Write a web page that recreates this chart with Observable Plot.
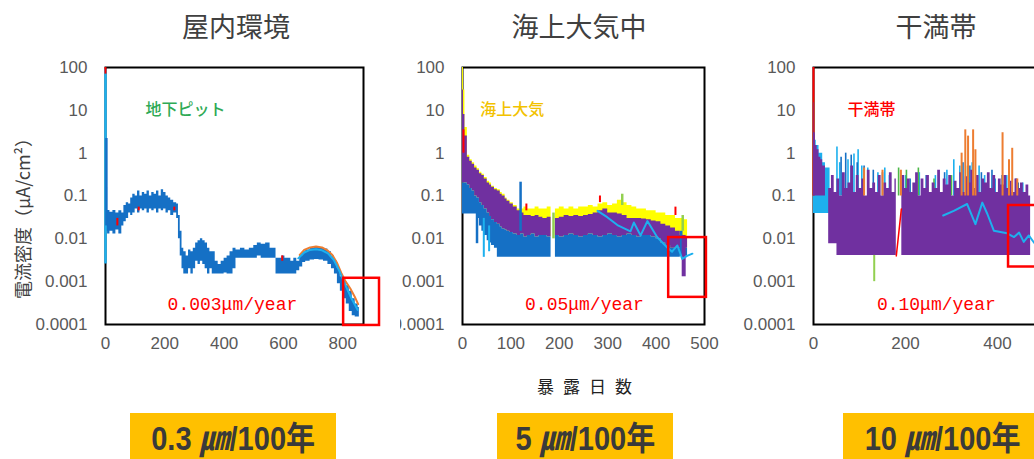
<!DOCTYPE html>
<html><head><meta charset="utf-8">
<script src="https://cdn.jsdelivr.net/npm/d3@7"></script>
<script src="https://cdn.jsdelivr.net/npm/@observablehq/plot@0.6"></script>
<style>
html,body{margin:0;padding:0;background:#fff;overflow:hidden;}
#root{position:relative;width:1034px;height:459px;overflow:hidden;background:#fff;}
.abs{position:absolute;white-space:nowrap;}
.title{font-family:"Noto Sans CJK JP";font-size:27px;color:#404040;line-height:1;transform:translateX(-50%);top:12px;}
.ylab{font-family:"Noto Sans CJK JP";font-size:18px;color:#404040;line-height:1;transform:translate(-50%,-50%) rotate(-90deg);}
.xlab{font-family:"Noto Sans CJK JP";font-size:17px;color:#222;line-height:1;transform:translate(-50%,-50%);letter-spacing:9px;}
.gold{top:413px;height:50px;background:#FFC000;font-family:"Liberation Sans","Noto Sans CJK JP";font-weight:bold;font-size:33px;color:#3a3a3a;text-align:center;line-height:46px;}
.gold .in{display:inline-block;transform:scaleX(0.88);}
.mu{font-style:italic;font-family:"Noto Sans CJK JP";font-weight:bold;margin-right:1px;}
</style></head><body><div id="root"></div><script>
// ---------- shared ----------
const titles = ["屋内環境", "海上大気中", "干満帯"];
const yTicks = [0.0001, 0.001, 0.01, 0.1, 1, 10, 100];
const yTickLabels = ["0.0001", "0.001", "0.01", "0.1", "1", "10", "100"];
const yLabel = "電流密度（μA/cm²）";
const xLabel = "暴露日数";
const rateLabels = ["0.003μm/year", "0.05μm/year", "0.10μm/year"];
const envLabels = ["地下ピット", "海上大気", "干満帯"];
const boxRates = ["0.3", "5", "10"];
const boxUnit = "㎛";
const boxTail = "/100年";

// ---------- panel 1 : indoor (地下ピット) ----------
const p1Day = [0,2,4,7,15,25,35,45,55,62, 70,78,85,92,100,108,116,124,132,140, 148,156,164,172,180,188,196,204,212,220, 230,240,246,252,258,264,272,280,288,296, 304,312,320,328,336,344,352,360,370,380, 390,400,410,420,430,440,455,470,485,500, 512,525,540,555,565,575,585,595,605,615, 625,635,645,655,665,675,690,705,720,735, 750,762,772,782,792,802,812,822,832,842, 852,856];
const p1Lo = [0.0026,0.02,0.015,0.013,0.015,0.013,0.016,0.013,0.02,0.025, 0.03,0.04,0.035,0.04,0.05,0.04,0.05,0.045,0.05,0.04, 0.05,0.045,0.05,0.04,0.05,0.045,0.05,0.04,0.045,0.035, 0.04,0.03,0.01,0.004,0.002,0.0015,0.0015,0.002,0.0015,0.002, 0.003,0.0025,0.003,0.0025,0.002,0.0015,0.002,0.0015,0.0015,0.0015, 0.0015,0.0016,0.0015,0.0015,0.002,0.0035,0.0035,0.0035,0.0035,0.0035, 0.004,0.0035,0.0035,0.0035,0.0035,0.0015,0.0015,0.0015,0.0015,0.0015, 0.0015,0.0015,0.0018,0.0022,0.0028,0.003,0.0032,0.0033,0.0032,0.003, 0.0025,0.002,0.0015,0.0009,0.0006,0.0004,0.0003,0.0002,0.00016,0.00015, 0.00015,0.00015];
const p1Hi = [100,2.2,0.16,0.046,0.042,0.046,0.04,0.045,0.04,0.06, 0.07,0.065,0.09,0.11,0.1,0.13,0.1,0.12,0.11,0.13, 0.1,0.12,0.11,0.13,0.1,0.14,0.12,0.1,0.09,0.08, 0.07,0.065,0.035,0.015,0.006,0.005,0.004,0.0055,0.005,0.006, 0.008,0.009,0.01,0.009,0.008,0.006,0.005,0.005,0.003,0.0025, 0.003,0.0035,0.004,0.005,0.006,0.0055,0.006,0.0055,0.006,0.007, 0.008,0.0075,0.008,0.006,0.006,0.0035,0.0035,0.004,0.0035,0.0035, 0.003,0.0035,0.003,0.004,0.005,0.0055,0.006,0.0063,0.0062,0.0058, 0.005,0.004,0.003,0.002,0.0013,0.001,0.0008,0.0006,0.0004,0.0003, 0.00025,0.00025];
const p1OrangeDay = [655,670,690,710,730,750,765,780,795,810,825,840,852];
const p1Orange = [0.0042,0.0055,0.0063,0.0066,0.0063,0.0053,0.0042,0.0028,0.0016,0.001,0.0007,0.00045,0.0003];
const p1CyanDay = [650,670,690,710,730,750,770,790,810,830,850];
const p1Cyan = [0.0035,0.0048,0.0055,0.0057,0.0054,0.0046,0.0032,0.0017,0.0008,0.0004,0.00022];
const p1CyanSpikeDay = [0], p1CyanSpikeLo = [0.0026], p1CyanSpikeHi = [90];
const p1BlueSpikeDay = [3], p1BlueSpikeLo = [0.02], p1BlueSpikeHi = [2.2];
const p1RedSpikeDay = [0, 40, 112, 232, 596], p1RedSpikeLo = [70, 0.02, 0.045, 0.045, 0.003], p1RedSpikeHi = [100, 0.03, 0.055, 0.055, 0.004];
const p1Box = [803, 924, 0.000095, 0.0012];
const p1NotePos = [270, 10], p1RatePos = [428, 0.00029];

// ---------- panel 2 : sea air (海上大気) ----------
const p2Day = [0,2,5,10,15,20,25,30,35,40, 45,51,56,60,66,72,78,82,88,92, 98,105,113,120,127,134,142,150,158,166, 175,183,186,192,200,210,220,230,240,250, 260,270,280,290,300,310,320,330,340,350, 360,370,380,390,400,410,420,430,440,450, 458,465];
const p2YellowHi = [100,30,4,0.9,0.7,0.6,0.5,0.43,0.36,0.32, 0.27,0.22,0.2,0.17,0.15,0.14,0.12,0.11,0.09,0.08, 0.07,0.06,0.05,0.05,0.055,0.05,0.05,0.055,0.05,0.05, 0.055,0.05,null,0.05,0.055,0.05,0.055,0.05,0.055,0.055, 0.06,0.055,0.065,0.07,0.06,0.065,0.08,0.07,0.06,0.055, 0.05,0.05,0.045,0.045,0.04,0.04,0.035,0.035,0.03,0.03, 0.028,0.025];
const p2PurpleHi = [30,8,2.5,0.8,0.65,0.55,0.45,0.4,0.33,0.3, 0.25,0.2,0.18,0.16,0.14,0.13,0.11,0.1,0.085,0.075, 0.065,0.055,0.045,0.04,0.035,0.035,0.033,0.035,0.032,0.03, 0.032,0.03,null,0.03,0.032,0.035,0.033,0.035,0.033,0.035, 0.037,0.04,0.045,0.05,0.04,0.04,0.038,0.035,0.03,0.03, 0.03,0.029,0.028,0.026,0.025,0.022,0.02,0.018,0.015,0.012, 0.011,0.01];
const p2PurpleLo = [0.2,0.2,0.2,0.18,0.15,0.13,0.1,0.09,0.07,0.06, 0.05,0.04,0.033,0.028,0.024,0.022,0.019,0.017,0.016,0.015, 0.014,0.013,0.012,0.013,0.011,0.012,0.013,0.011,0.012,0.012, 0.011,0.01,null,0.012,0.011,0.012,0.013,0.012,0.011,0.012, 0.013,0.012,0.011,0.012,0.013,0.012,0.011,0.012,0.013,0.012, 0.011,0.012,0.012,0.011,0.01,0.008,0.007,0.006,0.006,0.006, 0.006,0.006];
const p2BlueLo = [0.038,0.038,0.038,0.038,0.038,0.038,0.038,0.03,0.02,0.015, 0.012,0.009,0.008,0.007,0.006,0.0037,0.0037,0.0037,0.0037,0.0037, 0.0037,0.0037,0.0037,0.0037,0.0037,0.0037,0.0037,0.0037,0.0037,0.0037, 0.0037,0.0037,null,0.0037,0.0037,0.0037,0.0037,0.0037,0.0037,0.0037, 0.0037,0.0037,0.0037,0.0037,0.0037,0.0037,0.0037,0.0037,0.0037,0.0037, 0.0037,0.0037,0.0037,0.0037,0.0037,0.0037,0.0037,0.0037,0.0037,0.004, 0.004,0.004];
const p2CyanDay = [279,299,320,347,354,368,382,402,423,433,444,454,464,475];
const p2Cyan = [0.045,0.032,0.021,0.015,0.024,0.012,0.026,0.011,0.0063,0.005,0.007,0.0034,0.004,0.0045];
const p2RedSpikeDay = [2,132,284,440], p2RedSpikeLo = [1,0.045,0.07,0.035], p2RedSpikeHi = [3.5,0.065,0.1,0.055];
const p2BlueSpikeDay = [120,30,452], p2BlueSpikeLo = [0.015,0.0077,0.004], p2BlueSpikeHi = [0.21,0.04,0.015];
const p2CyanSpikeDay = [44,55], p2CyanSpikeLo = [0.0037,0.005], p2CyanSpikeHi = [0.03,0.02];
const p2PurpleSpikeDay = [457], p2PurpleSpikeLo = [0.0013], p2PurpleSpikeHi = [0.012];
const p2GreenSpikeDay = [330,455,188], p2GreenSpikeLo = [0.06,0.015,0.01], p2GreenSpikeHi = [0.11,0.035,0.04];
const p2Box = [426, 504, 0.00043, 0.0107];
const p2NotePos = [103, 10], p2RatePos = [252, 0.00029];

// ---------- panel 3 : tidal zone (干満帯) ----------
const p3Day = [0,1,4,8,12,16,20,24,26,27, 33,39,45,51,57,63,69,75,81,87, 93,99,105,111,117,123,129,135,141,147, 153,159,165,171,177,180,181, 192,198,204,210,216,222,228,234,240,246, 252,258,264,270,276,282,288,294,300,306, 312,318,324,330,336,342,348,354,360,366, 372,378,384,390,396,402,408,414,420,426, 432,438,444,450,456,462,468,472];
const p3PurpleHi = [15,3,1.5,1.2,0.8,0.7,0.5,0.5,0.5,null, 0.15,0.3,0.12,0.25,0.1,0.35,0.15,0.2,0.5,0.12, 0.3,0.15,0.25,0.1,0.4,0.15,0.2,0.12,0.3,0.1, 0.2,0.15,0.35,0.12,0.25,0.25,null, 0.3,0.15,0.25,0.12,0.2,0.35,0.1,0.25,0.15,0.3, 0.12,0.2,0.15,0.4,0.12,0.25,0.18,0.3,0.1,0.22, 0.15,0.35,0.12,0.28,0.2,0.4,0.15,0.3,0.12,0.25, 0.2,0.35,0.15,0.3,0.12,0.25,0.18,0.3,0.15,0.22, 0.12,0.25,0.15,0.2,0.12,0.18,0.1,0.1];
const p3PurpleLo = [0.1,0.1,0.1,0.1,0.1,0.1,0.1,0.1,0.1,null, 0.0077,0.0077,0.0077,0.0041,0.0041,0.0041,0.0041,0.0041,0.0041,0.0041, 0.0041,0.0041,0.0041,0.0041,0.0041,0.0041,0.0041,0.0041,0.0041,0.0041, 0.0041,0.0041,0.0041,0.0041,0.0041,0.0041,null, 0.0041,0.0041,0.0041,0.0041,0.0041,0.0041,0.0041,0.0041,0.0041,0.0041, 0.0041,0.0041,0.0041,0.0041,0.0041,0.0041,0.0041,0.0041,0.0041,0.0041, 0.0041,0.0041,0.0041,0.0041,0.0041,0.0041,0.0041,0.0041,0.0041,0.0041, 0.0041,0.0041,0.0041,0.0041,0.0041,0.0041,0.0041,0.0041,0.0041,0.0041, 0.0041,0.0041,0.0041,0.0041,0.0041,0.0041,0.0041,0.0041];
const p3CyanBandDay = [0,2,6,12,20,26,33,36];
const p3CyanBandLo = [0.039,0.039,0.039,0.039,0.039,0.039,0.039,0.039];
const p3CyanBandHi = [20,2,1.5,1,0.6,0.45,0.45,0.45];
const p3SpikeBase = 0.1;
const p3CyanSpikeDay = [51,57,75,88,97,105,118,140,155,165, 200,230,265,290,305,318,345,360,372,395, 420,440,455];
const p3CyanSpike = [1.4,0.6,0.7,0.95,1.2,0.5,0.45,0.35,0.45,0.3, 0.3,0.35,0.3,0.4,0.7,0.5,0.6,0.5,0.3,0.25, 0.3,0.25,0.2];
const p3BlueSpikeDay = [60,70,82,95,110,130,150,210,245,285, 325,340,365,388,410,445];
const p3BlueSpike = [0.8,1.0,0.9,0.6,0.5,0.4,0.35,0.25,0.3,0.35, 0.6,0.5,0.35,0.4,0.3,0.2];
const p3OrangeSpikeDay = [110,150,190,322,330,336,347,352,411,425,432,443];
const p3OrangeSpike = [0.45,0.4,0.4,1.0,3.5,2.5,3.5,1.2,3.0,0.7,1.3,0.25];
const p3GreenSpikeDay = [0,185,202,228,262,300,335];
const p3GreenSpike = [20,0.45,0.4,0.45,0.25,0.3,0.5];
const p3RedSpikeDay = [0], p3RedSpike = [100];
const p3CyanLineDay = [282,305,334,352,367,378,392,421,436,447,457,468,480,500];
const p3CyanLine = [0.035,0.045,0.065,0.022,0.07,0.038,0.0155,0.0135,0.011,0.014,0.0085,0.012,0.008,0.007];
const p3RedLineDay = [180,191], p3RedLine = [0.004,0.05];
const p3GreenDownDay = [132], p3GreenDownLo = [0.001], p3GreenDownHi = [0.0041];
const p3Box = [424, 540, 0.0022, 0.06];
const p3NotePos = [126, 10], p3RatePos = [267, 0.00029];

// ---------- colours ----------
const C = {blue:"#1570C5", cyan:"#1DB0EE", purple:"#7030A0", yellow:"#FFFF00", orange:"#ED7D31", red:"#FF0000", green:"#4CB848", lime:"#92D050"};

const root = document.getElementById("root");
const idx = a => a.map((_, i) => i);
const band = (xs, lo, hi, fill, curve = "step-after") =>
  Plot.areaY(idx(xs), {x: i => xs[i], y1: i => lo[i], y2: i => hi[i], fill, curve});
const spikes = (xs, lo, hi, stroke, strokeWidth = 1.6) =>
  Plot.ruleX(idx(xs), {x: i => xs[i], y1: i => (Array.isArray(lo) ? lo[i] : lo), y2: i => hi[i], stroke, strokeWidth});
const line = (xs, ys, stroke, strokeWidth = 2) =>
  Plot.line(idx(xs), {x: i => xs[i], y: i => ys[i], stroke, strokeWidth});
const box = b => Plot.rect([b], {x1: d => d[0], x2: d => d[1], y1: d => d[2], y2: d => d[3], stroke: C.red, strokeWidth: 2.5, fill: "none"});
const note = (t, pos, fill, opts) => Plot.text([t], {x: () => pos[0], y: () => pos[1], text: d => d, fill, ...opts});

function panel({left, width, mL, mR, xDomain, xTicks, marks}) {
  const svg = Plot.plot({
    width, height: 360, marginLeft: mL, marginRight: mR, marginTop: 67, marginBottom: 36,
    x: {domain: xDomain},
    y: {type: "log", domain: [0.0001, 100]},
    style: {fontFamily: "Liberation Sans", fontSize: "17px", color: "#595959", background: "white", overflow: "hidden"},
    marks: [
      Plot.frame({stroke: "#000", strokeWidth: 2}),
      ...marks,
      Plot.axisX({ticks: xTicks, tickSize: 0, tickPadding: 12, label: null, fontSize: 17}),
      Plot.axisY({ticks: yTicks, tickFormat: d => yTickLabels[yTicks.indexOf(d)], tickSize: 0, tickPadding: 18, label: null, fontSize: 17})
    ]
  });
  svg.style.position = "absolute";
  svg.style.left = left + "px";
  svg.style.top = "0px";
  root.appendChild(svg);
}

const envFont = {fontSize: 16, fontFamily: "Noto Sans CJK JP", fontWeight: 500};
const rateFont = {fontSize: 18, fontFamily: "Liberation Mono"};

panel({left: 0, width: 400, mL: 105, mR: 37, xDomain: [0, 870], xTicks: [0, 200, 400, 600, 800], marks: [
  band(p1Day, p1Lo, p1Hi, C.blue),
  line(p1OrangeDay, p1Orange, C.orange, 2),
  line(p1CyanDay, p1Cyan, C.cyan, 2),
  spikes(p1CyanSpikeDay, p1CyanSpikeLo, p1CyanSpikeHi, C.cyan, 2.5),
  spikes(p1BlueSpikeDay, p1BlueSpikeLo, p1BlueSpikeHi, C.blue, 2.5),
  spikes(p1RedSpikeDay, p1RedSpikeLo, p1RedSpikeHi, C.red, 2),
  note(envLabels[0], p1NotePos, "#2EAA55", envFont),
  note(rateLabels[0], p1RatePos, C.red, rateFont),
  box(p1Box)
]});

panel({left: 400, width: 330, mL: 62, mR: 26, xDomain: [0, 500], xTicks: [0, 100, 200, 300, 400, 500], marks: [
  band(p2Day, p2PurpleLo, p2YellowHi, C.yellow),
  band(p2Day, p2PurpleLo, p2PurpleHi, C.purple),
  band(p2Day, p2BlueLo, p2PurpleLo, C.blue),
  spikes(p2GreenSpikeDay, p2GreenSpikeLo, p2GreenSpikeHi, C.lime, 2.5),
  spikes(p2RedSpikeDay, p2RedSpikeLo, p2RedSpikeHi, C.red, 2),
  spikes(p2BlueSpikeDay, p2BlueSpikeLo, p2BlueSpikeHi, C.blue, 2.5),
  spikes(p2CyanSpikeDay, p2CyanSpikeLo, p2CyanSpikeHi, C.cyan, 2),
  spikes(p2PurpleSpikeDay, p2PurpleSpikeLo, p2PurpleSpikeHi, C.purple, 4),
  line(p2CyanDay, p2Cyan, C.cyan, 2),
  note(envLabels[1], p2NotePos, "#F2C200", envFont),
  note(rateLabels[1], p2RatePos, C.red, rateFont),
  box(p2Box)
]});

panel({left: 720, width: 400, mL: 93, mR: 31, xDomain: [0, 600], xTicks: [0, 200, 400], marks: [
  band(p3CyanBandDay, p3CyanBandLo, p3CyanBandHi, C.cyan),
  spikes(p3CyanSpikeDay, p3SpikeBase, p3CyanSpike, C.cyan),
  spikes(p3BlueSpikeDay, p3SpikeBase, p3BlueSpike, C.blue),
  spikes(p3GreenSpikeDay, p3SpikeBase, p3GreenSpike, C.green),
  spikes(p3RedSpikeDay, p3SpikeBase, p3RedSpike, C.red, 2),
  band(p3Day, p3PurpleLo, p3PurpleHi, C.purple),
  spikes(p3OrangeSpikeDay, p3SpikeBase, p3OrangeSpike, C.orange, 2),
  line(p3RedLineDay, p3RedLine, C.red, 1.5),
  spikes(p3GreenDownDay, p3GreenDownLo, p3GreenDownHi, C.lime, 2),
  line(p3CyanLineDay, p3CyanLine, C.cyan, 2),
  note(envLabels[2], p3NotePos, C.red, envFont),
  note(rateLabels[2], p3RatePos, C.red, rateFont),
  box(p3Box)
]});

// ---------- surrounding texts ----------
const titleX = [236, 579, 936];
titles.forEach((t, i) => {
  const d = document.createElement("div");
  d.className = "abs title"; d.style.left = titleX[i] + "px"; d.textContent = t;
  root.appendChild(d);
});
const yl = document.createElement("div");
yl.className = "abs ylab"; yl.style.left = "22px"; yl.style.top = "214px"; yl.textContent = yLabel;
root.appendChild(yl);
const xl = document.createElement("div");
xl.className = "abs xlab"; xl.style.left = "589px"; xl.style.top = "385px"; xl.textContent = xLabel;
root.appendChild(xl);
const boxLeft = [130, 497, 843], boxWidth = [206, 176, 200];
boxRates.forEach((r, i) => {
  const d = document.createElement("div");
  d.className = "abs gold"; d.style.left = boxLeft[i] + "px"; d.style.width = boxWidth[i] + "px";
  d.innerHTML = "<span class='in'>" + r + " <span class='mu'>" + boxUnit + "</span>" + boxTail + "</span>";
  root.appendChild(d);
});
</script></body></html>
